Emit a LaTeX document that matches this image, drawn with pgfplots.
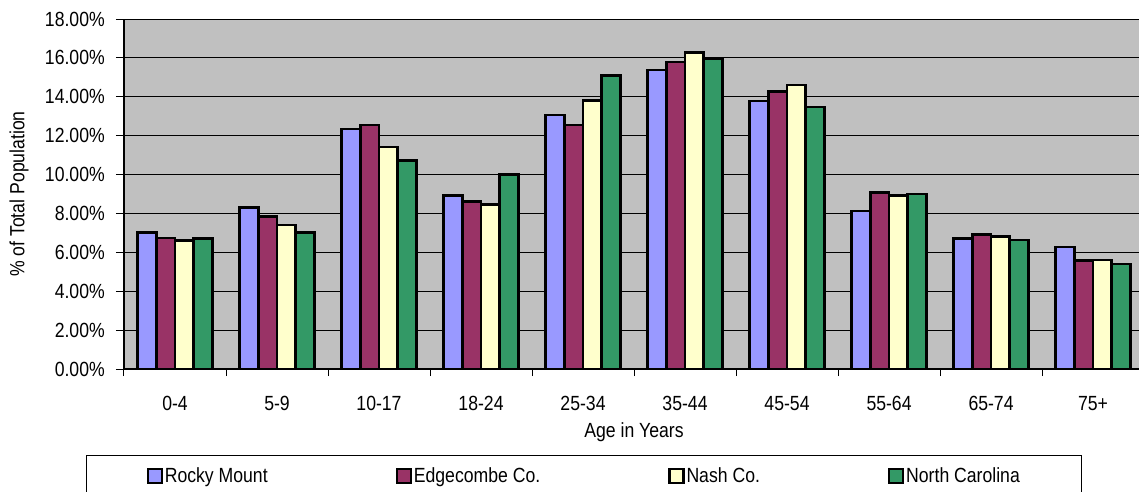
\documentclass[border=0pt]{standalone}
\usepackage{pgfplots}
\pgfplotsset{compat=1.18}
\usepackage{fontspec}
\setmainfont{Liberation Sans}[FakeStretch=0.86]
\definecolor{bggray}{RGB}{192,192,192}
\definecolor{rocky}{RGB}{153,153,255}
\definecolor{edge}{RGB}{153,51,102}
\definecolor{nash}{RGB}{255,255,204}
\definecolor{ncar}{RGB}{51,153,102}
\newcommand{\ff}{\fontsize{20.5}{24}\selectfont}
\pgfplotstableread{
x rocky edge nash nc
0 7.03 6.74 6.60 6.70
1 8.32 7.84 7.41 7.01
2 12.35 12.55 11.42 10.72
3 8.93 8.62 8.47 10.01
4 13.07 12.55 13.82 15.09
5 15.38 15.79 16.29 15.98
6 13.79 14.27 14.61 13.48
7 8.13 9.09 8.92 9.00
8 6.72 6.91 6.81 6.64
9 6.28 5.57 5.61 5.40
}\datatable
\begin{document}
\begin{tikzpicture}
\pgfplotsset{mybar/.style={fill=#1, draw=black, line width=2.6pt,
  legend image code/.code={\draw[##1, line width=2.2pt] (0pt,-7pt) rectangle (14pt,7pt);}}}
\begin{axis}[
  at={(0,0)}, anchor=south west,
  scale only axis, width=1020pt, height=350pt,
  xmin=-0.5, xmax=9.5, ymin=0, ymax=18,
  ybar=0pt, bar width=18.65pt,
  every axis plot post/.append style={line width=2.6pt},
  axis background/.style={fill=bggray},
  axis x line*=bottom, axis y line*=left,
  axis line style={-, black, line width=1.4pt},
  ymajorgrids, grid style={black, line width=1pt},
  ytick={0,2,...,18},
  yticklabel={\pgfmathprintnumber[fixed,fixed zerofill,precision=2]{\tick}\%},
  /pgf/number format/assume math mode=true,
  xtick={0,...,9},
  xticklabels={0-4,5-9,10-17,18-24,25-34,35-44,45-54,55-64,65-74,75+},
  minor xtick={-0.5,0.5,...,9.5},
  tick align=outside,
  major tick length=8pt, minor tick length=7pt,
  major x tick style={draw=none},
  tick style={black, line width=1pt},
  every tick label/.append style={font=\ff, text=black},
  xticklabel style={anchor=base, yshift=-33pt},
  yticklabel style={anchor=east, xshift=-7.7pt},
  xlabel={Age in Years},
  xlabel style={font=\ff, at={(axis description cs:0.5,-0.1943)}, anchor=base},
  ylabel={\% of Total Population},
  ylabel style={font=\ff, at={(axis description cs:-0.1029,0.5)}, anchor=center},
  legend columns=4,
  legend style={font=\ff, at={(axis description cs:-0.03725,-0.2457)}, anchor=north west,
    draw=black, line width=1.2pt, inner xsep=60pt, inner ysep=12pt,
    nodes={inner xsep=2pt, inner ysep=0pt},
    /tikz/column sep=0pt,
    /tikz/every even column/.append style={column sep=126pt}},
]
\addplot[mybar=rocky] table[x=x,y=rocky]{\datatable};
\addlegendentry{Rocky Mount}
\addplot[mybar=edge] table[x=x,y=edge]{\datatable};
\addlegendentry{Edgecombe Co.}
\addplot[mybar=nash] table[x=x,y=nash]{\datatable};
\addlegendentry{Nash Co.}
\addplot[mybar=ncar] table[x=x,y=nc]{\datatable};
\addlegendentry{North Carolina}
\end{axis}
\pgfresetboundingbox
\path[use as bounding box] (-124pt,-122pt) rectangle (1015pt,369pt);
\end{tikzpicture}
\end{document}
